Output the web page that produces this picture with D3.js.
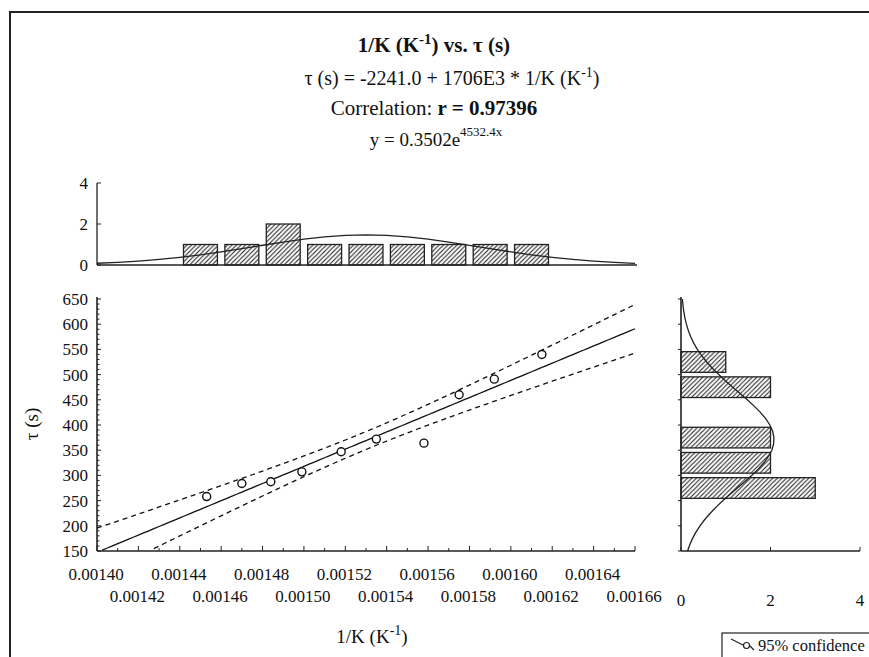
<!DOCTYPE html>
<html>
<head>
<meta charset="utf-8">
<script src="https://cdn.jsdelivr.net/npm/d3@7"></script>
<style>
  html, body { margin: 0; padding: 0; background: #fff; }
  svg { display: block; }
  text { font-family: "Liberation Serif", "Times New Roman", serif; fill: #111; }
</style>
</head>
<body>
<svg id="chart" width="869" height="657"></svg>
<script>
// ---------------- data ----------------
const invK = [0.001453, 0.001470, 0.001484, 0.001499, 0.001518, 0.001535, 0.001558, 0.001575, 0.001592, 0.001615];
const tau  = [258, 284, 287.5, 307, 347, 372, 364, 460, 491, 540];

const fitIntercept = -2241.0;
const fitSlope = 1706e3;

const xTickValues = [0.00140, 0.00142, 0.00144, 0.00146, 0.00148, 0.00150, 0.00152, 0.00154, 0.00156, 0.00158, 0.00160, 0.00162, 0.00164, 0.00166];
const xTickLabels = ["0.00140", "0.00142", "0.00144", "0.00146", "0.00148", "0.00150", "0.00152", "0.00154", "0.00156", "0.00158", "0.00160", "0.00162", "0.00164", "0.00166"];
const yTickValues = [150, 200, 250, 300, 350, 400, 450, 500, 550, 600, 650];

// top histogram (distribution of 1/K)
const topBinStart = [0.00144, 0.00146, 0.00148, 0.00150, 0.00152, 0.00154, 0.00156, 0.00158, 0.00160];
const topCounts   = [1, 1, 2, 1, 1, 1, 1, 1, 1];
const topBinWidth = 0.00002;
const topTicks = [0, 2, 4];

// right histogram (distribution of tau)
const rightBinStart = [250, 300, 350, 450, 500];
const rightCounts   = [3, 2, 2, 2, 1];
const rightBinWidth = 50;
const rightTicks = [0, 2, 4];

// ---------------- layout ----------------
const svg = d3.select("#chart");

const x = d3.scaleLinear().domain([0.00140, 0.00166]).range([97, 635]);
const y = d3.scaleLinear().domain([150, 650]).range([551, 299]);
const yTop = d3.scaleLinear().domain([0, 4]).range([265, 183]);
const xRight = d3.scaleLinear().domain([0, 4]).range([681, 860]);

// frame
svg.append("rect").attr("x", 10).attr("y", 12).attr("width", 1000).attr("height", 1000)
  .attr("fill", "none").attr("stroke", "#222").attr("stroke-width", 2);

// hatch pattern
const defs = svg.append("defs");
const pat = defs.append("pattern").attr("id", "hatch").attr("patternUnits", "userSpaceOnUse")
  .attr("width", 4.5).attr("height", 4.5);
pat.append("rect").attr("width", 4.5).attr("height", 4.5).attr("fill", "#fff");
pat.append("path").attr("d", "M-1,1 l2,-2 M0,4.5 l4.5,-4.5 M3.5,5.5 l2,-2")
  .attr("stroke", "#222").attr("stroke-width", 1.1);

// ---------------- titles ----------------
const cx = 434;
const t1 = svg.append("text").attr("x", cx).attr("y", 52).attr("text-anchor", "middle")
  .attr("font-size", 21).attr("font-weight", "bold");
t1.append("tspan").text("1/K (K");
t1.append("tspan").attr("dy", -8).attr("font-size", 15).text("-1");
t1.append("tspan").attr("dy", 8).text(") vs. τ (s)");

const t2 = svg.append("text").attr("x", cx + 18).attr("y", 85).attr("text-anchor", "middle").attr("font-size", 20);
t2.append("tspan").text("τ (s) = -2241.0 + 1706E3 * 1/K (K");
t2.append("tspan").attr("dy", -8).attr("font-size", 14).text("-1");
t2.append("tspan").attr("dy", 8).text(")");

const t3 = svg.append("text").attr("x", cx).attr("y", 115).attr("text-anchor", "middle").attr("font-size", 21);
t3.append("tspan").text("Correlation: ");
t3.append("tspan").attr("font-weight", "bold").text("r = 0.97396");

const t4 = svg.append("text").attr("x", cx + 2).attr("y", 146).attr("text-anchor", "middle").attr("font-size", 19);
t4.append("tspan").text("y = 0.3502e");
t4.append("tspan").attr("dy", -10).attr("font-size", 13).text("4532.4x");

// ---------------- statistics helpers ----------------
const n = invK.length;
const mx = d3.mean(invK), my = d3.mean(tau);
const sx = d3.deviation(invK), sy = d3.deviation(tau);
const Sxx = d3.sum(invK, v => (v - mx) * (v - mx));
const fit = v => fitIntercept + fitSlope * v;
const sRes = Math.sqrt(d3.sum(invK.map((v, i) => (tau[i] - fit(v)) ** 2)) / (n - 2));
const tCrit = 2.306;
const ci = v => tCrit * sRes * Math.sqrt(1 / n + (v - mx) ** 2 / Sxx);
const normPdf = (v, m, s) => Math.exp(-0.5 * ((v - m) / s) ** 2) / (s * Math.sqrt(2 * Math.PI));

// ---------------- top histogram ----------------
const gTop = svg.append("g");
const topPad = 0.09 * topBinWidth;
gTop.selectAll("rect.bar").data(topBinStart).join("rect")
  .attr("x", d => x(d + topPad))
  .attr("width", d => x(d + topBinWidth - topPad) - x(d + topPad))
  .attr("y", (d, i) => yTop(topCounts[i]))
  .attr("height", (d, i) => yTop(0) - yTop(topCounts[i]))
  .attr("fill", "url(#hatch)").attr("stroke", "#222").attr("stroke-width", 1.3);

const topCurveX = d3.range(0, 27).map(i => x.domain()[0] + i * (x.domain()[1] - x.domain()[0]) / 26);
gTop.append("path")
  .attr("d", d3.line().x(v => x(v)).y(v => yTop(n * topBinWidth * normPdf(v, mx, sx)))(topCurveX))
  .attr("fill", "none").attr("stroke", "#222").attr("stroke-width", 1.3);

gTop.append("line").attr("x1", x(0.0014)).attr("x2", x(0.0014)).attr("y1", yTop(0)).attr("y2", yTop(4))
  .attr("stroke", "#222").attr("stroke-width", 1.3);
gTop.append("line").attr("x1", x(0.0014)).attr("x2", x(0.00166) + 2).attr("y1", yTop(0)).attr("y2", yTop(0))
  .attr("stroke", "#222").attr("stroke-width", 1.6);
gTop.selectAll("line.tk").data(topTicks).join("line").attr("class", "tk")
  .attr("x1", x(0.0014)).attr("x2", x(0.0014) + 4).attr("y1", d => yTop(d)).attr("y2", d => yTop(d))
  .attr("stroke", "#222");
gTop.selectAll("text.tl").data(topTicks).join("text").attr("class", "tl")
  .attr("x", 88).attr("y", d => yTop(d) + 6).attr("text-anchor", "end").attr("font-size", 17)
  .text(d => d);

// ---------------- main scatter ----------------
const gMain = svg.append("g");

gMain.append("line").attr("x1", x(0.0014)).attr("x2", x(0.0014)).attr("y1", y(150)).attr("y2", y(650) - 2)
  .attr("stroke", "#222").attr("stroke-width", 1.6);
gMain.append("line").attr("x1", x(0.0014)).attr("x2", x(0.00166)).attr("y1", y(150)).attr("y2", y(150))
  .attr("stroke", "#222").attr("stroke-width", 1.6);

const yMinor = d3.range(150, 651, 10);
gMain.selectAll("line.ym").data(yMinor).join("line").attr("class", "ym")
  .attr("x1", x(0.0014)).attr("x2", d => x(0.0014) + (d % 50 === 0 ? 4 : 2.5))
  .attr("y1", d => y(d)).attr("y2", d => y(d)).attr("stroke", "#222");
gMain.selectAll("text.yl").data(yTickValues).join("text").attr("class", "yl")
  .attr("x", 88).attr("y", d => y(d) + 6).attr("text-anchor", "end").attr("font-size", 17)
  .text(d => d);

const xMinor = d3.range(0, 27).map(i => 0.0014 + i * 0.00001);
gMain.selectAll("line.xm").data(xMinor).join("line").attr("class", "xm")
  .attr("x1", d => x(d)).attr("x2", d => x(d))
  .attr("y1", y(150)).attr("y2", (d, i) => y(150) - (i % 2 === 0 ? 5 : 3)).attr("stroke", "#222");
gMain.selectAll("text.xl").data(xTickValues).join("text").attr("class", "xl")
  .attr("x", d => x(d) - 1).attr("y", (d, i) => i % 2 === 0 ? 580 : 602)
  .attr("text-anchor", "middle").attr("font-size", 17)
  .text((d, i) => xTickLabels[i]);

// regression + confidence band
const lineX = d3.range(0, 105).map(i => 0.0014 + i * 0.0000025);
const bandLine = f => d3.line().defined(v => f(v) >= 150 && f(v) <= 650).x(v => x(v)).y(v => y(f(v)));
gMain.append("path").attr("d", bandLine(fit)(lineX))
  .attr("fill", "none").attr("stroke", "#111").attr("stroke-width", 1.3);
gMain.append("path").attr("d", bandLine(v => fit(v) + ci(v))(lineX))
  .attr("fill", "none").attr("stroke", "#111").attr("stroke-width", 1.3).attr("stroke-dasharray", "5,4");
gMain.append("path").attr("d", bandLine(v => fit(v) - ci(v))(lineX))
  .attr("fill", "none").attr("stroke", "#111").attr("stroke-width", 1.3).attr("stroke-dasharray", "5,4");

gMain.selectAll("circle.pt").data(invK).join("circle").attr("class", "pt")
  .attr("cx", d => x(d)).attr("cy", (d, i) => y(tau[i])).attr("r", 4)
  .attr("fill", "#fff").attr("stroke", "#111").attr("stroke-width", 1.4);

// axis titles
const xt = svg.append("text").attr("x", 372).attr("y", 643).attr("text-anchor", "middle").attr("font-size", 19);
xt.append("tspan").text("1/K (K");
xt.append("tspan").attr("dy", -8).attr("font-size", 14).text("-1");
xt.append("tspan").attr("dy", 8).text(")");
svg.append("text").attr("transform", "translate(38,424) rotate(-90)").attr("text-anchor", "middle")
  .attr("font-size", 19).text("τ (s)");

// ---------------- right histogram ----------------
const gR = svg.append("g");
const rPad = 0.09 * rightBinWidth;
gR.selectAll("rect.bar").data(rightBinStart).join("rect")
  .attr("x", xRight(0))
  .attr("y", d => y(d + rightBinWidth - rPad))
  .attr("height", d => y(d + rPad) - y(d + rightBinWidth - rPad))
  .attr("width", (d, i) => xRight(rightCounts[i]) - xRight(0))
  .attr("fill", "url(#hatch)").attr("stroke", "#222").attr("stroke-width", 1.3);

const rightCurveY = d3.range(0, 41).map(i => 150 + i * 12.5);
gR.append("path")
  .attr("d", d3.line().x(v => xRight(n * rightBinWidth * normPdf(v, my, sy))).y(v => y(v))(rightCurveY))
  .attr("fill", "none").attr("stroke", "#222").attr("stroke-width", 1.3);

gR.append("line").attr("x1", xRight(0)).attr("x2", xRight(0)).attr("y1", y(150)).attr("y2", y(650) - 2)
  .attr("stroke", "#222").attr("stroke-width", 1.6);
gR.append("line").attr("x1", xRight(0)).attr("x2", xRight(4)).attr("y1", y(150)).attr("y2", y(150))
  .attr("stroke", "#222").attr("stroke-width", 1.6);
gR.selectAll("line.ry").data(yTickValues).join("line").attr("class", "ry")
  .attr("x1", xRight(0) - 3).attr("x2", xRight(0)).attr("y1", d => y(d)).attr("y2", d => y(d)).attr("stroke", "#222");
gR.selectAll("line.rx").data(rightTicks).join("line").attr("class", "rx")
  .attr("x1", d => xRight(d)).attr("x2", d => xRight(d)).attr("y1", y(150)).attr("y2", y(150) - 4).attr("stroke", "#222");
gR.selectAll("text.rl").data(rightTicks).join("text").attr("class", "rl")
  .attr("x", d => xRight(d)).attr("y", 606).attr("text-anchor", "middle").attr("font-size", 17)
  .text(d => d);

// ---------------- legend (box runs past the edge, text kept inside) ----------------
const gL = svg.append("g");
gL.append("rect").attr("x", 722).attr("y", 633).attr("width", 200).attr("height", 40)
  .attr("fill", "#fff").attr("stroke", "#222").attr("stroke-width", 1.2);
gL.append("path").attr("d", "M731,639 L743,645 M750,646 L754,650")
  .attr("fill", "none").attr("stroke", "#222").attr("stroke-width", 1.2);
gL.append("circle").attr("cx", 746.5).attr("cy", 645.5).attr("r", 3)
  .attr("fill", "#fff").attr("stroke", "#222").attr("stroke-width", 1.2);
gL.append("text").attr("x", 758).attr("y", 651).attr("font-size", 16.5).text("95% confidence");
</script>
</body>
</html>
